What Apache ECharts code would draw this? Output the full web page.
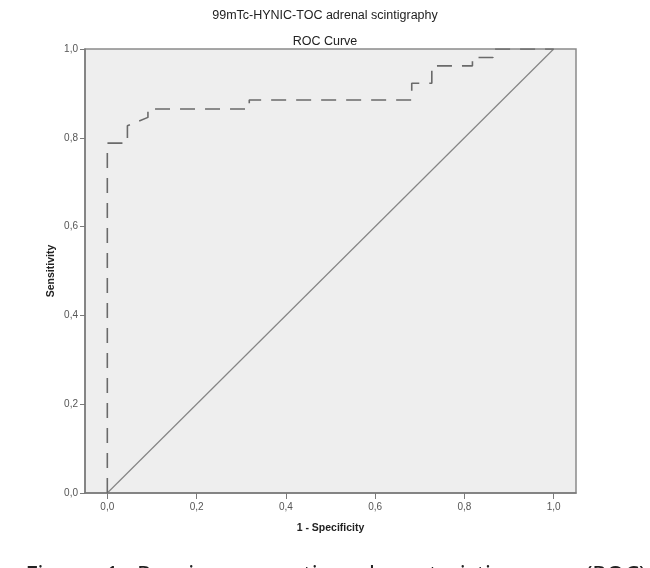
<!DOCTYPE html>
<html>
<head>
<meta charset="utf-8">
<title>ROC Curve</title>
<script src="https://cdn.jsdelivr.net/npm/echarts@6/dist/echarts.min.js"></script>
<style>
    html, body {
        margin: 0;
        padding: 0;
        background: #ffffff;
    }
    #roc_chart {
        width: 650px;
        height: 568px;
    }
</style>
</head>
<body>
<div id="roc_chart"></div>
<script>
// ROC curve (1 - specificity, sensitivity)
const fpr = [0, 0, 0.045, 0.045, 0.091, 0.091, 0.318, 0.318, 0.682, 0.682, 0.727, 0.727, 0.818, 0.818, 0.864, 0.864, 1]
const tpr = [0, 0.788, 0.788, 0.827, 0.846, 0.865, 0.865, 0.885, 0.885, 0.923, 0.923, 0.962, 0.962, 0.981, 0.981, 1, 1]
// reference line
const refX = [0, 1]
const refY = [0, 1]
// tick positions / labels
const xTicks = [0, 0.2, 0.4, 0.6, 0.8, 1]
const yTicks = [0, 0.2, 0.4, 0.6, 0.8, 1]

const fmt = (v) => v.toFixed(1).replace('.', ',')
const font = '"Liberation Sans", Arial, sans-serif'

const nodeDiv = document.getElementById('roc_chart')
const myChart = echarts.init(nodeDiv, null, { renderer: 'canvas' })
const option = {
    backgroundColor: '#ffffff',
    animation: false,
    title: [
        {
            text: '99mTc-HYNIC-TOC adrenal scintigraphy',
            left: 'center',
            top: 4,
            textStyle: { color: '#222', fontSize: 12.5, fontWeight: 'normal', fontFamily: font }
        },
        {
            text: 'ROC Curve',
            left: 'center',
            top: 30,
            textStyle: { color: '#222', fontSize: 12.5, fontWeight: 'normal', fontFamily: font }
        }
    ],
    grid: {
        left: 85,
        right: 74,
        top: 49,
        bottom: 75,
        show: true,
        backgroundColor: '#eeeeee',
        borderColor: '#8a8a8a',
        borderWidth: 1.5
    },
    xAxis: {
        type: 'value',
        min: -0.05,
        max: 1.05,
        name: '1 - Specificity',
        nameLocation: 'middle',
        nameGap: 30,
        nameMoveOverlap: false,
        nameTextStyle: { color: '#222', fontSize: 10.5, fontWeight: 'bold', fontFamily: font },
        splitLine: { show: false },
        axisLine: { show: true, onZero: false, lineStyle: { color: '#7a7a7a', width: 1.5 } },
        axisTick: { show: true, customValues: xTicks, length: 6, lineStyle: { color: '#7a7a7a' } },
        axisLabel: {
            customValues: xTicks,
            formatter: fmt,
            margin: 9,
            color: '#555',
            fontSize: 10,
            fontFamily: font
        }
    },
    yAxis: {
        type: 'value',
        min: 0,
        max: 1,
        interval: 0.2,
        name: 'Sensitivity',
        nameLocation: 'middle',
        nameGap: 28,
        nameMoveOverlap: false,
        nameTextStyle: { color: '#222', fontSize: 10.5, fontWeight: 'bold', fontFamily: font },
        splitLine: { show: false },
        // keep the axis on the left edge, not at x = 0
        axisLine: { show: true, onZero: false, lineStyle: { color: '#7a7a7a', width: 1.5 } },
        axisTick: { show: true, customValues: yTicks, length: 5, lineStyle: { color: '#7a7a7a' } },
        axisLabel: {
            customValues: yTicks,
            formatter: fmt,
            margin: 7,
            color: '#555',
            fontSize: 10,
            fontFamily: font
        }
    },
    series: [
        {
            name: 'reference',
            type: 'line',
            symbol: 'none',
            lineStyle: { color: '#858585', width: 1.2 },
            data: refX.map((x, i) => [x, refY[i]])
        },
        {
            name: 'ROC',
            type: 'line',
            symbol: 'none',
            lineStyle: { color: '#6a6a6a', width: 1.6, type: [15, 10] },
            data: fpr.map((x, i) => [x, tpr[i]])
        }
    ],
    graphic: [
        {
            // caption line below the figure, cut by the bottom edge
            type: 'text',
            right: 4,
            top: 565,
            style: {
                text: 'Figure  1:  Receiver  operating  characteristic  curve  (ROC)',
                fill: '#222',
                font: '23px "Noto Sans", sans-serif'
            }
        }
    ]
}
myChart.setOption(option)
</script>
</body>
</html>
